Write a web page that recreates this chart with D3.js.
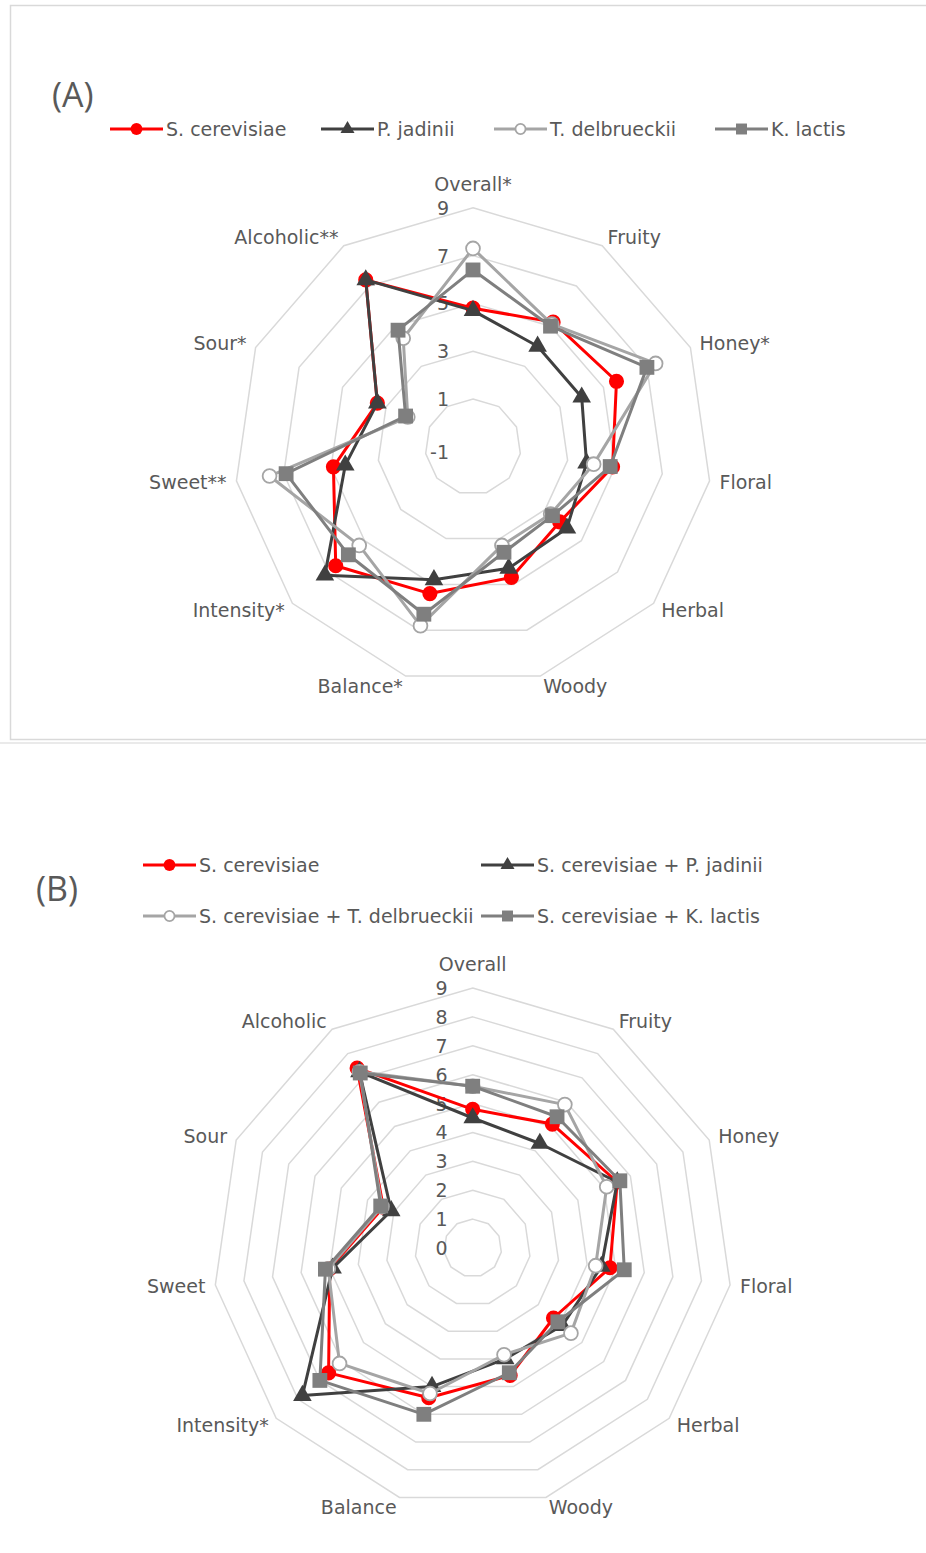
<!DOCTYPE html>
<html>
<head>
<meta charset="utf-8">
<script src="https://cdn.jsdelivr.net/npm/d3@7"></script>
<style>
  html, body { margin: 0; padding: 0; background: #fff; }
  svg { display: block; }
  text { font-family: "DejaVu Sans", "Open Sans", sans-serif; fill: #595959; }
  text.title { font-family: "Open Sans", sans-serif; }
</style>
</head>
<body>
<svg id="chart" width="926" height="1553"></svg>
<script>
// ---- Panel A: single-strain fermentations ----
const attributesA = ["Overall*", "Fruity", "Honey*", "Floral", "Herbal", "Woody",
                     "Balance*", "Intensity*", "Sweet**", "Sour*", "Alcoholic**"];
const seriesNamesA = ["S. cerevisiae", "P. jadinii", "T. delbrueckii", "K. lactis"];
const scA = [4.8, 5.2, 5.6, 4.9, 3.8, 4.7, 5.4, 6.6, 4.9, 3.4, 7.3];
const pjA = [4.7, 4.0, 4.0, 3.8, 4.2, 4.3, 4.8, 7.2, 4.4, 3.4, 7.3];
const tdA = [7.3, 5.1, 7.4, 4.1, 3.3, 3.3, 6.8, 5.3, 7.6, 2.0, 4.4];
const klA = [6.4, 5.0, 7.0, 4.8, 3.4, 3.6, 6.3, 5.9, 6.9, 2.1, 4.8];
const ticksA = [-1, 1, 3, 5, 7, 9];

// ---- Panel B: mixed fermentations with S. cerevisiae ----
const attributesB = ["Overall", "Fruity", "Honey", "Floral", "Herbal", "Woody",
                     "Balance", "Intensity*", "Sweet", "Sour", "Alcoholic"];
const seriesNamesB = ["S. cerevisiae", "S. cerevisiae + P. jadinii",
                      "S. cerevisiae + T. delbrueckii", "S. cerevisiae + K. lactis"];
const scB = [4.8, 5.1, 5.5, 4.8, 3.7, 4.6, 5.4, 6.6, 5.0, 3.4, 7.4];
const pjB = [4.5, 4.3, 5.5, 4.5, 4.1, 4.0, 5.0, 7.8, 4.9, 3.1, 7.25];
const tdB = [5.6, 5.9, 5.1, 4.3, 4.5, 3.85, 5.25, 6.1, 5.05, 3.45, 7.25];
const klB = [5.6, 5.4, 5.6, 5.3, 3.9, 4.5, 6.0, 7.0, 5.15, 3.5, 7.2];
const ticksB = [0, 1, 2, 3, 4, 5, 6, 7, 8, 9];

// Visual style per series (same order in both panels)
const styles = [
  { color: "#FF0000", marker: "circle",   fill: "#FF0000" },
  { color: "#404040", marker: "triangle", fill: "#404040" },
  { color: "#A5A5A5", marker: "ring",     fill: "#FFFFFF" },
  { color: "#7F7F7F", marker: "square",   fill: "#7F7F7F" }
];

const FONT = 19;

const svg = d3.select("#chart");
svg.append("rect").attr("width", 926).attr("height", 1553).attr("fill", "#fff");

// Frame around panel A
svg.append("path")
  .attr("d", "M926,5.5 H10.5 V739.5 H926")
  .attr("fill", "none").attr("stroke", "#d9d9d9").attr("stroke-width", 1.5);
svg.append("line")
  .attr("x1", 0).attr("x2", 926).attr("y1", 743).attr("y2", 743)
  .attr("stroke", "#e3e3e3").attr("stroke-width", 1.5);

function markerPath(kind, big) {
  if (kind === "circle") return d3.symbol(d3.symbolCircle, big ? 180 : 110)();
  if (kind === "ring") return d3.symbol(d3.symbolCircle, big ? 150 : 80)();
  if (kind === "square") return d3.symbol(d3.symbolSquare, big ? 220 : 120)();
  return d3.symbol(d3.symbolTriangle, big ? 150 : 85)();
}

function drawMarker(g, kind, style, x, y, big) {
  g.append("path")
    .attr("d", markerPath(kind, big))
    .attr("transform", `translate(${x},${y})`)
    .attr("fill", style.fill)
    .attr("stroke", kind === "ring" ? style.color : "none")
    .attr("stroke-width", kind === "ring" ? 1.8 : 0);
}

function drawRadar(cfg) {
  const g = svg.append("g").attr("transform", `translate(${cfg.cx},${cfg.cy})`);
  const n = cfg.attributes.length;
  const angle = d3.scaleLinear().domain([0, n]).range([0, 2 * Math.PI]);
  const r = d3.scaleLinear().domain([cfg.min, cfg.max]).range([0, cfg.R]);
  const idx = d3.range(n);

  // concentric grid polygons
  const gridLine = d3.lineRadial()
    .angle(i => angle(i))
    .curve(d3.curveLinearClosed);
  cfg.ticks.filter(t => t > cfg.min).forEach(t => {
    g.append("path")
      .attr("d", gridLine.radius(() => r(t))(idx))
      .attr("fill", "none").attr("stroke", "#d9d9d9").attr("stroke-width", 1.5);
  });

  // value axis labels along the vertical spoke
  cfg.ticks.forEach(t => {
    g.append("text")
      .attr("x", -cfg.tickDx).attr("y", -r(t) + (t === cfg.min ? cfg.centerDy : 0))
      .attr("text-anchor", "end").attr("dominant-baseline", "central")
      .attr("font-size", FONT).text(t);
  });

  // category labels just outside the outer polygon
  cfg.attributes.forEach((name, i) => {
    const a = angle(i), s = Math.sin(a), c = Math.cos(a);
    const pad = 10;
    const x = (cfg.R + pad) * s, y = -(cfg.R + pad) * c;
    const t = g.append("text").attr("font-size", FONT).text(name);
    if (Math.abs(s) < 0.01) {
      t.attr("x", x).attr("y", y - 7).attr("text-anchor", "middle");
    } else {
      t.attr("x", x).attr("y", y).attr("dominant-baseline", "central")
        .attr("text-anchor", s > 0 ? "start" : "end");
    }
  });

  // series polylines then markers, drawn in series order
  const valueLine = d3.lineRadial()
    .angle((d, i) => angle(i))
    .radius(d => r(d))
    .curve(d3.curveLinearClosed);
  cfg.series.forEach((vals, k) => {
    const st = styles[k];
    const sg = g.append("g");
    sg.append("path")
      .attr("d", valueLine(vals))
      .attr("fill", "none").attr("stroke", st.color)
      .attr("stroke-width", 3).attr("stroke-linejoin", "round");
    vals.forEach((v, i) => {
      const a = angle(i);
      drawMarker(sg, st.marker, st, r(v) * Math.sin(a), -r(v) * Math.cos(a), true);
    });
  });
}

function drawLegend(items, positions) {
  items.forEach((name, k) => {
    const p = positions[k], st = styles[k];
    const g = svg.append("g").attr("transform", `translate(${p[0]},${p[1]})`);
    g.append("line").attr("x1", 0).attr("x2", 53).attr("y1", 0).attr("y2", 0)
      .attr("stroke", st.color).attr("stroke-width", 3);
    drawMarker(g, st.marker, st, 26.5, 0, false);
    g.append("text").attr("x", 56).attr("y", 0)
      .attr("dominant-baseline", "central").attr("font-size", FONT).text(name);
  });
}

// Panel A
svg.append("text").attr("class", "title").attr("x", 52).attr("y", 94)
  .attr("dominant-baseline", "central").attr("font-size", 34).text("(A)");
drawLegend(seriesNamesA, [[110, 129], [321, 129], [494, 129], [715, 129]]);
drawRadar({
  cx: 473, cy: 446.8, R: 239, min: -1, max: 9, ticks: ticksA,
  tickDx: 24, centerDy: 5,
  attributes: attributesA, series: [scA, pjA, tdA, klA]
});

// Panel B
svg.append("text").attr("class", "title").attr("x", 36).attr("y", 888)
  .attr("dominant-baseline", "central").attr("font-size", 34).text("(B)");
drawLegend(seriesNamesB, [[143, 865], [481, 865], [143, 916], [481, 916]]);
drawRadar({
  cx: 472.7, cy: 1248, R: 260, min: 0, max: 9, ticks: ticksB,
  tickDx: 25, centerDy: 0,
  attributes: attributesB, series: [scB, pjB, tdB, klB]
});
</script>
</body>
</html>
